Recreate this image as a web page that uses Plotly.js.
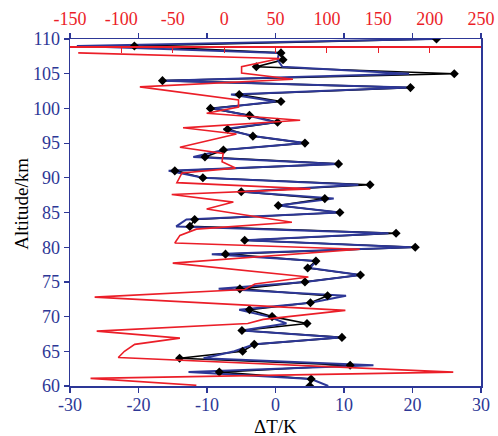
<!DOCTYPE html>
<html>
<head>
<meta charset="utf-8">
<script src="https://cdn.plot.ly/plotly-3.0.1.min.js"></script>
<style>html,body{margin:0;padding:0;background:#fff;}#chart{width:498px;height:436px;}</style>
</head>
<body>
<div id="chart"></div>
<script>
// Altitude levels (km) shared by the black and blue profiles
const altitude = [110,109,108,107,106,105,104,103,102,101,100,99,98,97,96,95,94,93,92,91,90,89,88,87,86,85,84,83,82,81,80,79,78,77,76,75,74,73,72,71,70,69,68,67,66,65,64,63,62,61,60];
// Black profile (ΔT, K) with diamond markers, bottom axis
const blackDT = [23.5,-20.6,0.8,1.1,-2.8,26.1,-16.5,19.7,-5.3,0.8,-9.5,-3.8,0.3,-7.0,-3.3,4.3,-7.6,-10.3,9.2,-14.7,-10.6,13.8,-5.0,7.2,0.4,9.4,-11.8,-12.5,17.6,-4.5,20.4,-7.3,5.9,4.7,12.4,4.3,-5.2,7.6,5.1,-3.8,-0.5,4.6,-4.9,9.7,-3.1,-4.8,-14.0,10.9,-8.2,5.2,5.0];
// Blue profile (ΔT, K), bottom axis
const blueDT = [23.0,-29.0,0.5,0.3,1.0,19.5,-16.5,19.5,-6.5,0.0,-9.0,-4.2,0.0,-7.6,-3.0,4.3,-7.6,-12.0,9.2,-15.6,-10.6,12.1,-5.0,8.5,0.4,9.4,-13.0,-14.5,16.5,-4.5,19.8,-9.3,6.0,5.0,12.4,4.3,-8.3,10.3,5.1,-5.3,-1.0,1.6,-4.9,9.5,-3.1,-6.0,-10.5,14.3,-12.7,5.2,7.7];
// Red profile (top axis, -150..250) with its own altitude levels
const redAlt = [108.0,107.2,106.0,105.1,104.2,103.1,101.2,100.2,99.3,98.3,97.2,96.3,94.4,93.5,92.3,91.4,90.7,89.3,88.4,87.6,86.5,85.5,83.6,82.6,81.7,80.6,79.7,77.7,75.7,74.7,73.9,72.8,70.9,69.6,69.0,67.9,66.9,66.0,65.0,64.1,62.0,61.1,60.1];
const redDT = [-142,54,17,17,67,-82,14,14,-17,74,-40,12,-43,-1,-2,11,-41,-46,84,-51,9,-17,66,-27,-43,-48,132,-50,82,30,20,-126,118,38,23,-124,-43,-87,-97,-103,223,-130,-27];
// Tick values
const bottomTicks = [-30,-20,-10,0,10,20,30];
const topTicks = [-150,-100,-50,0,50,100,150,200,250];
const yTicks = [60,65,70,75,80,85,90,95,100,105,110];

const BLUE = 'rgb(45,55,150)';
const RED = 'rgb(235,30,40)';
const FONT = 'Liberation Serif';

const traces = [
  {x: redDT, y: redAlt, xaxis: 'x2', yaxis: 'y', mode: 'lines', line: {color: RED, width: 1.6}, hoverinfo: 'skip'},
  {x: blackDT, y: altitude, mode: 'lines', line: {color: '#000', width: 1.6}, hoverinfo: 'skip'},
  {x: blueDT, y: altitude, mode: 'lines', line: {color: BLUE, width: 2}, hoverinfo: 'skip'},
  {x: blackDT, y: altitude, mode: 'markers', marker: {symbol: 'diamond', size: 7, color: '#000'}, hoverinfo: 'skip'}
];

const layout = {
  width: 498, height: 436,
  margin: {l: 70, r: 17, t: 39, b: 50, pad: 0},
  paper_bgcolor: '#fff', plot_bgcolor: '#fff',
  showlegend: false,
  font: {family: FONT, size: 18, color: '#000'},
  xaxis: {
    range: [-30, 30], tickvals: bottomTicks, ticktext: bottomTicks.map(String),
    showgrid: false, zeroline: false, showline: true, linecolor: BLUE, linewidth: 1.5,
    mirror: 'ticks', ticks: 'outside', ticklen: 5, tickcolor: BLUE, tickwidth: 1.2,
    tickfont: {family: FONT, size: 18, color: BLUE}, ticklabelstandoff: -3
  },
  xaxis2: {
    overlaying: 'x', side: 'top', anchor: 'free', position: 0.979,
    range: [-150, 250], tickvals: topTicks, ticktext: topTicks.map(String),
    showgrid: false, zeroline: false, showline: true, linecolor: RED, linewidth: 1.5,
    ticks: 'inside', ticklen: 5, tickcolor: RED, tickwidth: 1.2,
    tickfont: {family: FONT, size: 18, color: RED}, ticklabelstandoff: 14
  },
  yaxis: {
    range: [60, 110], tickvals: yTicks, ticktext: yTicks.map(String),
    showgrid: false, zeroline: false, showline: true, linecolor: BLUE, linewidth: 1.5,
    mirror: true, ticks: 'outside', ticklen: 5, tickcolor: BLUE, tickwidth: 1.2,
    tickfont: {family: FONT, size: 18, color: BLUE}
  },
  annotations: [
    {text: 'Altitude/km', xref: 'paper', yref: 'paper', x: -0.117, y: 0.525,
     xanchor: 'center', yanchor: 'middle', textangle: -90, showarrow: false,
     font: {family: FONT, size: 19, color: '#000'}},
    {text: 'ΔT/K', xref: 'paper', yref: 'paper', x: 0.5, y: -0.116,
     xanchor: 'center', yanchor: 'middle', showarrow: false,
     font: {family: FONT, size: 19, color: '#000'}}
  ]
};

Plotly.newPlot('chart', traces, layout, {staticPlot: true, displayModeBar: false});
</script>
</body>
</html>
